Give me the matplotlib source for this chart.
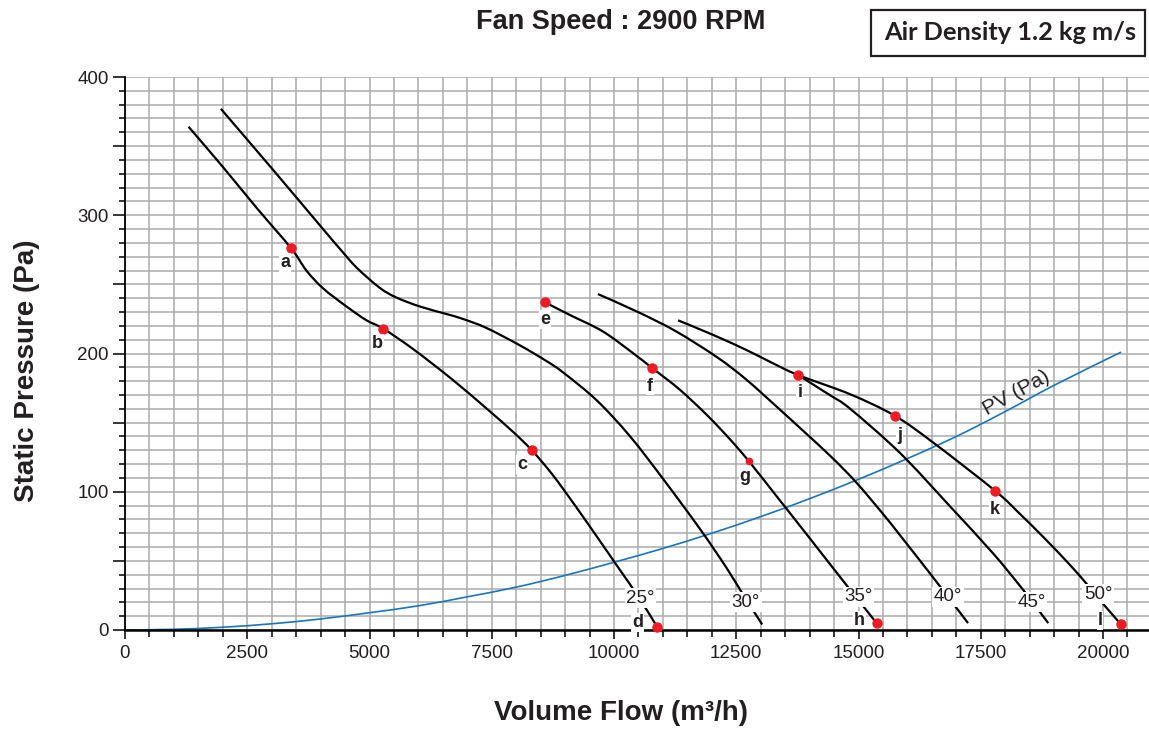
import matplotlib
matplotlib.use("Agg")
import matplotlib.pyplot as plt
import numpy as np
from matplotlib.ticker import MultipleLocator, FuncFormatter
from matplotlib.patches import Rectangle, PathPatch
from matplotlib.path import Path

# ---------------- data ----------------
x_25 = [1300, 2000, 2700, 3400, 3710, 4055, 4530, 4940, 5280, 5900, 6700, 7400, 7930, 8320,
        8750, 9225, 9700, 10110, 10500, 10870]
y_25 = [364, 335, 305, 276, 260, 247, 234, 224, 218, 203, 181, 160, 143.5, 130,
        112, 89, 65, 44, 24, 3]

x_30 = [1960, 3000, 4050, 4400, 4740, 5210, 5550, 6030, 6580, 6910, 7390, 8070, 8620, 8970,
        9650, 10330, 11010, 11760, 12300, 12650, 13030]
y_30 = [377, 334, 290, 275.5, 262, 247.5, 240.5, 234, 228.5, 225, 218.5, 206, 194.5, 186,
        166, 140, 109, 73, 45, 25, 4]

x_35 = [8590, 9090, 9770, 10380, 10780, 11340, 11900, 12370, 12760, 13320, 13800, 14210,
        14620, 15000, 15370]
y_35 = [237, 228, 216, 200.5, 189.5, 174, 155.5, 138, 122, 97, 75.5, 57, 38.5, 21.5, 5]

x_40 = [9670, 10490, 11270, 12120, 12710, 13390, 13870, 14450, 14960, 15500, 15850, 16460,
        16830, 17240]
y_40 = [243, 230, 216, 197, 181, 159.5, 144, 125, 106.5, 84, 68.5, 41, 24, 5]

x_45 = [13760, 14410, 14830, 15850, 16870, 17750, 18300, 18540, 18880]
y_45 = [184.5, 170, 160, 128, 89.5, 55.5, 32, 21, 5]

x_50 = [11310, 12030, 12710, 13190, 13760, 14830, 15740, 16530, 17800, 18300, 18800, 19300,
        19650, 20000, 20370]
y_50 = [224, 213.4, 202.5, 194, 184.5, 170.5, 155, 135.5, 100.5, 84, 66.5, 48, 34, 19, 4]

pv_x = [0, 1000, 2000, 3000, 4000, 5000, 6000, 7000, 8000, 9000, 10000, 11000, 12000,
        13000, 14000, 15000, 16000, 17000, 18000, 19000, 20370]
pv_y = [0, 0.5, 2, 4.5, 8, 12.5, 17.5, 24, 31, 39.5, 49, 59, 70, 82, 95, 109, 124, 140,
        158, 177, 201]

angle_labels = ["25°", "30°", "35°", "40°", "45°", "50°"]
angle_label_x = [10540, 12700, 15000, 16830, 18540, 19900]
angle_label_y = [23, 20, 24, 24, 20, 26]

point_names = ["a", "b", "c", "d", "e", "f", "g", "h", "i", "j", "k", "l"]
point_x = [3400, 5280, 8320, 10870, 8590, 10780, 12760, 15370, 13760, 15740, 17800, 20370]
point_y = [276, 218, 130, 2, 237, 189.5, 122, 5, 184.5, 155, 100.5, 4]

x_ticks = [0, 2500, 5000, 7500, 10000, 12500, 15000, 17500, 20000]
y_ticks = [0, 100, 200, 300, 400]

title_text = "Fan Speed : 2900 RPM"
box_text = "Air Density 1.2 kg m/s"
x_label = "Volume Flow (m³/h)"
y_label = "Static Pressure (Pa)"
pv_label = "PV (Pa)"

# ---------------- style ----------------
W, H = 1149, 731
TXT = "#231f20"
plt.rcParams["font.family"] = ["Liberation Sans", "DejaVu Sans"]

fig = plt.figure(figsize=(W / 100, H / 100), dpi=100)
ax = fig.add_axes([125 / W, 101 / H, 1024 / W, 553 / H])
ax.set_xlim(0, 1024 / 0.0489)
ax.set_ylim(0, 400)

ax.xaxis.set_major_locator(MultipleLocator(2500))
ax.xaxis.set_minor_locator(MultipleLocator(500))
ax.yaxis.set_major_locator(MultipleLocator(50))
ax.yaxis.set_minor_locator(MultipleLocator(10))
ax.xaxis.set_major_formatter(FuncFormatter(lambda v, p: f"{int(round(v))}" if round(v) in x_ticks else ""))
ax.yaxis.set_major_formatter(FuncFormatter(lambda v, p: f"{int(round(v))}" if round(v) in y_ticks else ""))

ax.grid(which="both", color="#ababab", lw=1.1)
ax.set_axisbelow(True)
for s in ("top", "right"):
    ax.spines[s].set_visible(False)
ax.spines["left"].set_linewidth(1.3)
ax.spines["bottom"].set_linewidth(1.8)
ax.tick_params(axis="x", which="major", direction="out", length=6.5, width=1.1,
               labelsize=13.5, labelcolor=TXT, pad=4)
ax.tick_params(axis="x", which="minor", direction="out", length=5, width=1.1)
ax.tick_params(axis="y", which="major", direction="out", length=8.6, width=1.1,
               labelsize=13.5, labelcolor=TXT, pad=3)
ax.tick_params(axis="y", which="minor", direction="out", length=4.3, width=1.1)


def smooth_path(xs, ys):
    """Path through the read points, drawn as Catmull-Rom style Bezier segments."""
    p = np.column_stack([xs, ys]).astype(float)
    verts = [p[0]]
    codes = [Path.MOVETO]
    n = len(p)
    for k in range(n - 1):
        p0 = p[k - 1] if k > 0 else p[k]
        p1, p2 = p[k], p[k + 1]
        p3 = p[k + 2] if k + 2 < n else p[k + 1]
        c1 = p1 + (p2 - p0) / 6.0
        c2 = p2 - (p3 - p1) / 6.0
        verts += [c1, c2, p2]
        codes += [Path.CURVE4] * 3
    return Path(verts, codes)


for xs, ys in [(x_25, y_25), (x_30, y_30), (x_35, y_35), (x_40, y_40), (x_45, y_45), (x_50, y_50)]:
    ax.add_patch(PathPatch(smooth_path(xs, ys), fill=False, ec="black", lw=1.6,
                           capstyle="butt", joinstyle="round", zorder=3))

ax.add_patch(PathPatch(smooth_path(pv_x, pv_y), fill=False, ec="#1c75bc", lw=1.2, zorder=2.5))
ax.text(18221, 171.4, pv_label, rotation=29, ha="center", va="center", fontsize=15,
        color=TXT, zorder=4, rotation_mode="anchor")

for lab, lx, ly in zip(angle_labels, angle_label_x, angle_label_y):
    ax.text(lx, ly, lab, ha="center", va="center", fontsize=13.5, color=TXT, zorder=5,
            bbox=dict(boxstyle="square,pad=0.08", fc="white", ec="none"))

marker_sizes = [7.5, 7.5, 7.5, 7.5, 7.5, 7.5, 5.5, 7.5, 7.5, 7.5, 7.5, 7.5]
for px, py, ms in zip(point_x, point_y, marker_sizes):
    ax.plot([px], [py], "o", color="#ed1c24", ms=ms, mec="none", zorder=6, clip_on=False)
label_offsets = [(-6, -14), (-6, -15), (-10, -14), (-19, 5), (0, -17), (-2, -18), (-4, -15),
                 (-17, 3), (2, -18), (5, -20), (-1, -18), (-21, 4)]
for name, px, py, off in zip(point_names, point_x, point_y, label_offsets):
    ax.annotate(name, (px, py), xytext=off, textcoords="offset pixels", ha="center",
                va="center", fontsize=13, fontweight="bold", color=TXT, zorder=7,
                bbox=dict(boxstyle="square,pad=0.05", fc="white", ec="none"))

# texts
fig.text(621 / W, 1 - 22 / H, title_text, ha="center", va="center", fontsize=19.5,
         fontweight="bold", color=TXT)
fig.text(620.5 / W, 1 - 713 / H, x_label, ha="center", va="center", fontsize=20,
         fontweight="bold", color=TXT)
fig.text(27 / W, 1 - 370.5 / H, y_label, ha="center", va="center", fontsize=20,
         fontweight="bold", color=TXT, rotation=90)

fig.patches.append(Rectangle((871 / W, 1 - 56 / H), 274 / W, 46 / H, transform=fig.transFigure,
                             fill=False, ec="#231f20", lw=1.6))
fig.text(1010 / W, 1 - 33 / H, box_text, ha="center", va="center", fontsize=18.3,
         fontweight="bold", color=TXT, family=["Lato", "Liberation Sans"])

fig.savefig("out.png", dpi=100, facecolor="white")
